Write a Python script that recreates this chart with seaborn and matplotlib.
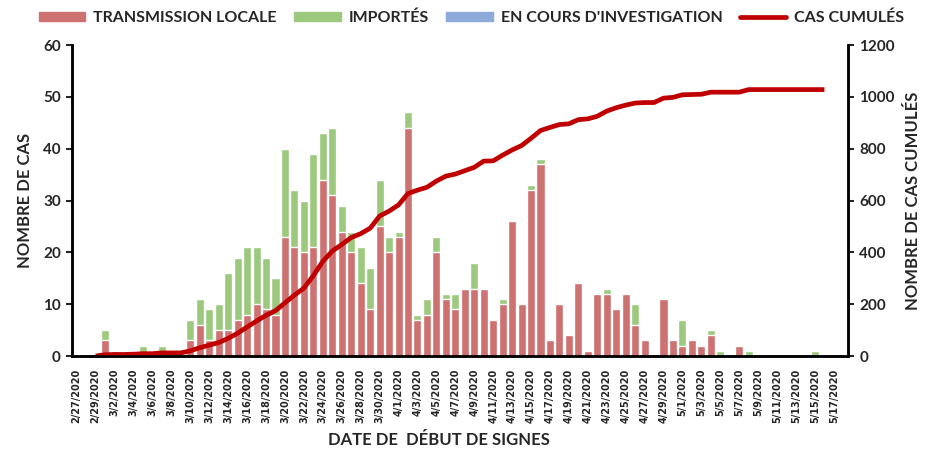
import numpy as np
import pandas as pd
import seaborn as sns
import matplotlib.pyplot as plt
from matplotlib.patches import Patch
from matplotlib.lines import Line2D

# categories: one bar per day, 2/27/2020 -> 5/18/2020
dates = pd.date_range("2020-02-27", "2020-05-18")
date_labels = [f"{d.month}/{d.day}/{d.year}" for d in dates]

# cas par jour
transmission_locale = [
    0, 0, 0, 3, 0, 0, 0, 0, 0, 0,
    0, 0, 3, 6, 3, 5, 5, 7, 8, 10,
    9, 8, 23, 21, 20, 21, 34, 31, 24, 20,
    14, 9, 25, 20, 23, 44, 7, 8, 20, 11,
    9, 13, 13, 13, 7, 10, 26, 10, 32, 37,
    3, 10, 4, 14, 1, 12, 12, 9, 12, 6,
    3, 0, 11, 3, 2, 3, 2, 4, 0, 0,
    2, 0, 0, 0, 0, 0, 0, 0, 0, 0,
    0, 0]
importes = [
    0, 0, 0, 2, 1, 0, 1, 2, 0, 2,
    0, 0, 4, 5, 6, 5, 11, 12, 13, 11,
    10, 7, 17, 11, 10, 18, 9, 13, 5, 4,
    7, 8, 9, 3, 1, 3, 1, 3, 3, 1,
    3, 0, 5, 0, 0, 1, 0, 0, 1, 1,
    0, 0, 0, 0, 0, 0, 1, 0, 0, 4,
    0, 0, 0, 0, 5, 0, 0, 1, 1, 0,
    0, 1, 0, 0, 0, 0, 0, 0, 1, 0,
    0, 0]
en_cours = [0] * 82

# cas cumulés (axe de droite)
nan = np.nan
cas_cumules = [
    nan, nan, 0, 5, 6, 6, 7, 9, 9, 12,
    12, 12, 20, 32, 42, 52, 68, 88, 112, 135,
    157, 175, 205, 235, 262, 310, 365, 405, 430, 457,
    472, 493, 540, 559, 583, 627, 640, 651, 675, 694,
    702, 715, 728, 752, 753, 775, 795, 812, 840, 870,
    882, 893, 896, 912, 915, 925, 945, 958, 968, 976,
    978, 978, 995, 998, 1008, 1009, 1010, 1018, 1018, 1018,
    1018, 1028, 1028, 1028, 1028, 1028, 1028, 1028, 1028, 1028,
    nan, nan]

c_locale = "#CD7171"
c_import = "#9DC97E"
c_invest = "#8EAADB"
c_cumul = "#C00000"

df = pd.DataFrame({
    "jour": np.arange(len(dates)),
    "locale": transmission_locale,
    "importes": importes,
    "en_cours": en_cours,
    "cumul": cas_cumules,
})
df["total"] = df["locale"] + df["importes"] + df["en_cours"]
df["locale_imp"] = df["locale"] + df["importes"]

sns.set_style("white")
plt.rcParams["font.family"] = ["Lato", "DejaVu Sans"]
plt.rcParams["font.weight"] = "bold"

fig, ax = plt.subplots(figsize=(9.34, 4.51), dpi=100)
fig.subplots_adjust(left=0.0771, right=0.908, bottom=0.2106, top=0.9002)

bar_kw = dict(x="jour", width=0.85, edgecolor="white", linewidth=1.0,
              saturation=1, ax=ax)
sns.barplot(data=df, y="total", color=c_invest, **bar_kw)
sns.barplot(data=df, y="locale_imp", color=c_import, **bar_kw)
sns.barplot(data=df, y="locale", color=c_locale, **bar_kw)

ax2 = ax.twinx()
sns.lineplot(data=df, x="jour", y="cumul", color=c_cumul, linewidth=3.4,
             ax=ax2, solid_capstyle="butt")

ax.set_xlim(-0.5, len(dates) - 0.5)
ax.set_ylim(0, 60)
ax.set_yticks(range(0, 61, 10))
ax2.set_ylim(0, 1200)
ax2.set_yticks(range(0, 1201, 200))

ax.set_xticks(range(0, len(dates), 2))
ax.set_xticklabels(date_labels[::2], rotation=90, fontsize=7,
                   family=["Liberation Sans Narrow", "DejaVu Sans"],
                   weight="bold")
ax.tick_params(axis="x", length=0, pad=9)
ax.tick_params(axis="y", length=4, width=1.5, labelsize=11, pad=4, direction="out")
ax2.tick_params(axis="y", length=4, width=1.5, labelsize=11, pad=4, direction="out")

for a in (ax, ax2):
    a.spines["top"].set_visible(False)
    for s in ("left", "right", "bottom"):
        a.spines[s].set_linewidth(1.8)
        a.spines[s].set_color("black")

ax.set_xlabel("")
ax.set_ylabel("NOMBRE DE CAS", fontsize=12, fontweight="bold", labelpad=7)
ax2.set_ylabel("NOMBRE DE CAS CUMULÉS", fontsize=12, fontweight="bold", labelpad=7)
fig.text(439 / 934, 1 - 440 / 451, "DATE DE  DÉBUT DE SIGNES", ha="center",
         va="center", fontsize=12, fontweight="bold")

handles = [
    Patch(color=c_locale, label="TRANSMISSION LOCALE"),
    Patch(color=c_import, label="IMPORTÉS"),
    Patch(color=c_invest, label="EN COURS D'INVESTIGATION"),
    Line2D([], [], color=c_cumul, linewidth=3.4, label="CAS CUMULÉS"),
]
fig.legend(handles=handles, loc="center", bbox_to_anchor=(0.505, 0.96), ncol=4,
           frameon=False, fontsize=11.5, handlelength=2.9, handleheight=0.5,
           handletextpad=0.5, columnspacing=1.1, borderaxespad=0)

fig.savefig("out.png", dpi=100)
